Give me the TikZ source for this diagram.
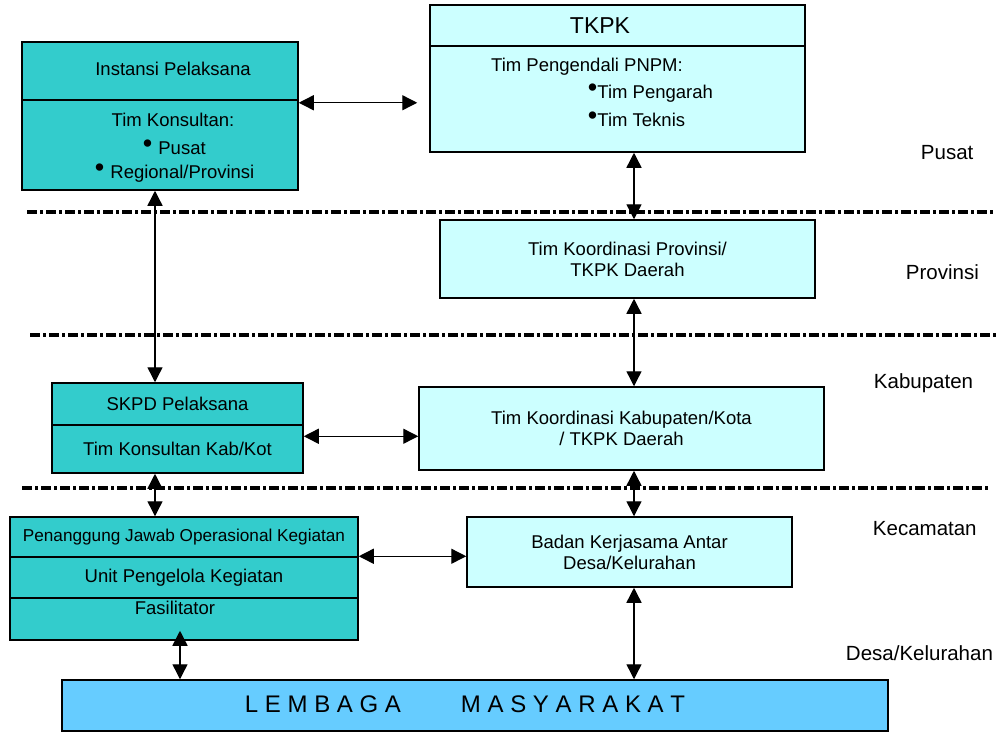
\documentclass[tikz,border=0pt]{standalone}
\usepackage{fontspec}
\setmainfont{Liberation Sans}
\usetikzlibrary{arrows.meta}
\definecolor{tealbox}{HTML}{33CCCC}
\definecolor{cyanbox}{HTML}{CCFFFF}
\definecolor{bluebox}{HTML}{66CCFF}
\newcommand{\bul}{\raisebox{0.12em}{\fontsize{27}{27}\selectfont\textbullet}}

\begin{document}
\begin{tikzpicture}[x=1pt,y=-1pt,
  tealpart/.style={draw, line width=1.5pt, fill=tealbox, inner sep=0pt, align=center, font=\fontsize{18.5}{21}\selectfont},
  cyanpart/.style={draw, line width=1.5pt, fill=cyanbox, inner sep=0pt, align=center, font=\fontsize{18.5}{21}\selectfont},
  txt/.style={inner sep=0.75pt, font=\fontsize{18.5}{21}\selectfont},
  level/.style={inner sep=0.75pt, anchor=west, font=\fontsize{20.5}{24}\selectfont},
  link/.style={line width=1.4pt, {Triangle[length=15pt,width=15pt]}-{Triangle[length=15pt,width=15pt]}},
  sep/.style={line width=4pt, dash pattern=on 10pt off 3pt on 3pt off 3pt}]
\useasboundingbox (0,0) rectangle (1002,732);

%Level separators
\draw[sep] (27,212) -- (995,212);
\draw[sep] (30,335) -- (997,335);
\draw[sep] (22,488) -- (990,488);

%Shape: Instansi Pelaksana
\node[tealpart, minimum width=276pt, minimum height=58pt] (instTop) at (160,71) {};
\node[tealpart, minimum width=276pt, minimum height=90pt] (instBot) at (160,145) {};
%Shape: TKPK
\node[cyanpart, minimum width=375pt, minimum height=41pt] (tkpkTop) at (617.5,25.5) {};
\node[cyanpart, minimum width=375pt, minimum height=106pt] (tkpkBot) at (617.5,99) {};
%Shape: Provinsi
\node[cyanpart, minimum width=375pt, minimum height=78pt] (prov) at (627.5,259) {Tim Koordinasi Provinsi/\\TKPK Daerah};
%Shape: SKPD
\node[tealpart, minimum width=251pt, minimum height=42pt] (skpdTop) at (177.5,404) {SKPD Pelaksana};
\node[tealpart, minimum width=251pt, minimum height=48pt] (skpdBot) at (177.5,449) {Tim Konsultan Kab/Kot};
%Shape: Kabupaten
\node[cyanpart, minimum width=405pt, minimum height=83pt] (kab) at (621.5,428.5) {Tim Koordinasi Kabupaten/Kota\\/ TKPK Daerah};
%Shape: Kecamatan
\node[tealpart, minimum width=348pt, minimum height=40pt, font=\fontsize{17.2}{20}\selectfont] (pjok) at (184,537) {Penanggung Jawab Operasional Kegiatan};
\node[tealpart, minimum width=348pt, minimum height=41pt] (upk) at (184,577.5) {Unit Pengelola Kegiatan};
\node[tealpart, minimum width=348pt, minimum height=42pt] (fas) at (184,619) {};
\node[cyanpart, minimum width=325pt, minimum height=70pt] (bkad) at (629.5,552) {Badan Kerjasama Antar\\Desa/Kelurahan};
%Shape: Lembaga Masyarakat
\node[draw, line width=1.5pt, fill=bluebox, inner sep=0pt, minimum width=826pt, minimum height=51pt] (lemb) at (475,705.5) {};

% Text Node
\node[txt] (instT) at (173,69) {Instansi Pelaksana};
\node[txt] (konsT) at (173,120) {Tim Konsultan:};
\node[txt, anchor=west] (pusatT) at (142,147) {\bul\hspace{6pt}Pusat};
\node[txt, anchor=west] (regT) at (94,173) {\bul\hspace{6pt}Regional/Provinsi};
\node[txt, font=\fontsize{23}{26}\selectfont] (tkpkT) at (600,26) {TKPK};
\node[txt] (pnpmT) at (587,67) {Tim Pengendali PNPM:};
\node[txt, anchor=west] (arahT) at (587,93) {\bul Tim Pengarah};
\node[txt, anchor=west] (teknT) at (587,119) {\bul Tim Teknis};
\node[txt] (fasT) at (175,608) {Fasilitator};
\node[txt, anchor=west, font=\fontsize{24}{27}\selectfont] (lembT) at (244,704) {L E M B A G A\hspace{60pt}M A S Y A R A K A T};

% Level labels
\node[level] (lvPusat) at (920,153) {Pusat};
\node[level] (lvProv) at (905,272) {Provinsi};
\node[level] (lvKab) at (873,383) {Kabupaten};
\node[level] (lvKec) at (872,529) {Kecamatan};
\node[level] (lvDesa) at (845,653) {Desa/Kelurahan};

%Straight Lines
\coordinate (spine) at (634,0);
\coordinate (lspine) at (155,0);
\coordinate (fspine) at (180,0);
\draw[link, shorten >=12pt] ([yshift=-2pt]instTop.south east) -- ([yshift=-2pt]instTop.south east -| tkpkBot.west);
\draw[link] (tkpkBot.south -| spine) -- (prov.north -| spine);
\draw[link] (prov.south -| spine) -- (kab.north -| spine);
\draw[link] (kab.south -| spine) -- (bkad.north -| spine);
\draw[link] (bkad.south -| spine) -- (lemb.north -| spine);
\draw[link] (instBot.south -| lspine) -- (skpdTop.north -| lspine);
\draw[link] (skpdBot.south -| lspine) -- (pjok.north -| lspine);
\draw[link] ([yshift=-12pt]skpdBot.north east) -- ([yshift=-12pt]skpdBot.north east -| kab.west);
\draw[link] (upk.north east) -- (upk.north east -| bkad.west);
\draw[link, shorten <=-10pt] (fas.south -| fspine) -- (lemb.north -| fspine);

\end{tikzpicture}
\end{document}
